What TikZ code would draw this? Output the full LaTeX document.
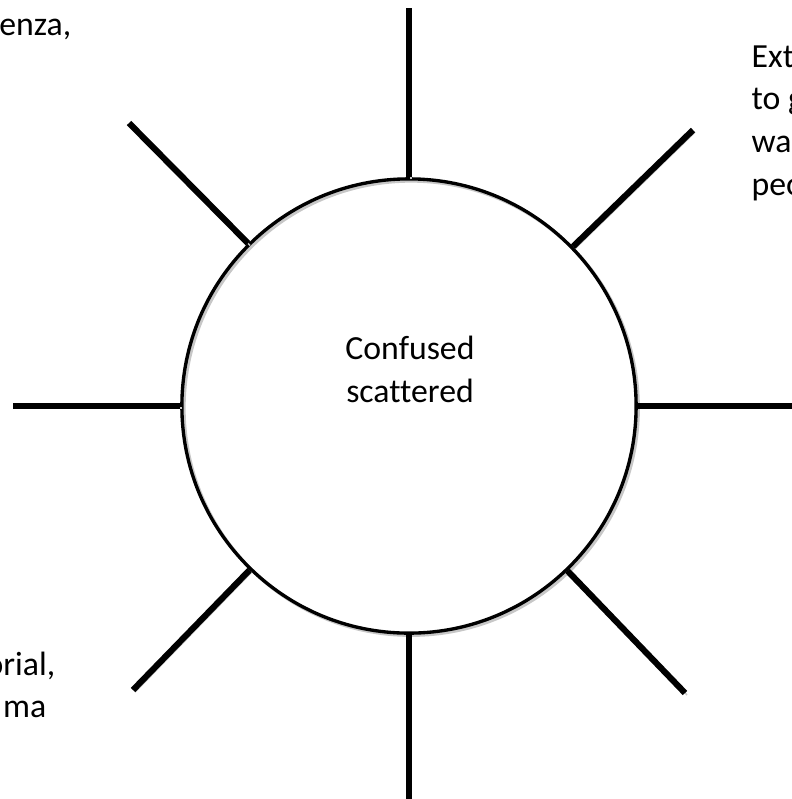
\documentclass[tikz,border=0pt]{standalone}
\usepackage{fontspec}
\setmainfont[Ligatures={NoCommon}]{Carlito}
\begin{document}
\begin{tikzpicture}[x=0.01cm,y=-0.01cm,
  ombre/.style={preaction={draw=black!22,transform canvas={xshift=0.6pt,yshift=-0.6pt}}},
  rayon/.style={line width=1.75pt,ombre},
  texte/.style={font=\fontsize{9.6pt}{12.1pt}\selectfont,inner sep=0pt}]

\useasboundingbox (0,0) rectangle (792,799) ;

% cercle central

\node[circle,draw,line width=0.95pt,minimum size=4.54cm,inner sep=0pt,ombre] (hub) at (409,406) {} ;
\node[texte,align=center,anchor=base] (centre) at (410,402) {Confused\\scattered} ;

% bouts des rayons

\coordinate (bout-n) at (409,8) ;
\coordinate (bout-s) at (409,810) ;
\coordinate (bout-o) at (13,406) ;
\coordinate (bout-e) at (810,406) ;
\coordinate (bout-no) at (129,123) ;
\coordinate (bout-ne) at (693,130) ;
\coordinate (bout-so) at (133,690) ;
\coordinate (bout-se) at (685,693) ;

% rayons

\draw[rayon] (hub) -- (bout-n) ;
\draw[rayon] (hub) -- (bout-s) ;
\draw[rayon] (hub) -- (bout-o) ;
\draw[rayon] (hub) -- (bout-e) ;
\draw[rayon] (hub) -- (bout-no) ;
\draw[rayon] (hub) -- (bout-ne) ;
\draw[rayon] (hub) -- (bout-so) ;
\draw[rayon] (hub) -- (bout-se) ;

% textes coupés au bord

\node[texte,anchor=base east] (txt-no) at (72,35) {enza,} ;
\node[texte,align=left,anchor=base west] (txt-ne) at (751,195) {Ext\\to g\\wa\\peo} ;
\node[texte,anchor=base east] (txt-so1) at (56,675) {orial,} ;
\node[texte,anchor=base east] (txt-so2) at (47,717) {ma} ;

\end{tikzpicture}
\end{document}
